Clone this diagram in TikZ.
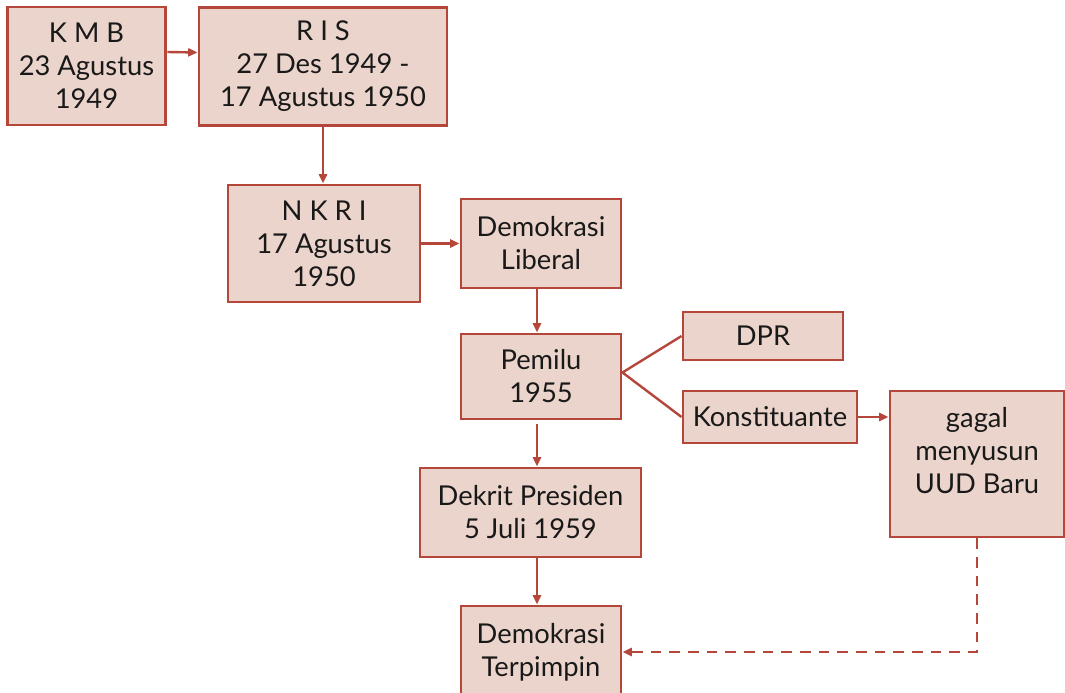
\documentclass[tikz,border=0pt]{standalone}
\usepackage{fontspec}
\setmainfont{Lato}
\usetikzlibrary{positioning,arrows.meta}
\definecolor{boxfill}{HTML}{EBD4CB}
\definecolor{boxline}{HTML}{B5473A}
\begin{document}
\begin{tikzpicture}[x=0.75pt,y=-0.75pt,
box/.style={rectangle, draw=boxline, fill=boxfill, line width=2.2pt, align=center, inner sep=2pt, font=\fontsize{20.5}{24.75}\selectfont, text=black!90},
link/.style={draw=boxline, line width=1.8pt},
arr/.style={link, -{Triangle[length=7pt,width=6pt]}}
]
\useasboundingbox (0,0) rectangle (1065,693);

\node[box, minimum width=119pt, minimum height=88.5pt](kmb) at (86.5,66) {K M B\\23 Agustus\\1949};
\node[box, minimum width=186pt, minimum height=89pt](ris) at (323,66.5) {R I S\\27 Des 1949 -\\17 Agustus 1950};
\node[box, minimum width=144pt, minimum height=87.75pt](nkri) at (324,243.5) {N K R I\\17 Agustus\\1950};
\node[box, minimum width=120pt, minimum height=66.75pt](demo_lib) at (541,243.5) {Demokrasi\\Liberal};
\node[box, minimum width=120pt, minimum height=63.75pt](pemilu) at (541,376.5) {Pemilu\\1955};
\node[box, minimum width=120pt, minimum height=36pt](dpr) at (763,336) {DPR};
\node[box, minimum width=130.5pt, minimum height=39pt](konst) at (770,417) {Konstituante};
\node[box, minimum width=130.5pt, minimum height=109.5pt](gagal) at (977,464) {gagal\\menyusun\\UUD Baru\\[-3.75pt]};
\node[box, minimum width=165.75pt, minimum height=66.75pt](dekrit) at (530.5,512.5) {Dekrit Presiden\\5 Juli 1959};
\node[box, minimum width=120pt, minimum height=69pt](demo_terp) at (541,652) {Demokrasi\\Terpimpin};

\draw[arr] ([yshift=10.5pt]kmb.east) -- ([yshift=10.5pt]ris.west);
\draw[arr] (ris.south) -- (nkri.north -| ris.south);
\draw[arr] (nkri.east) -- (demo_lib.west);
\draw[arr] ([xshift=-3pt]demo_lib.south) -- ([xshift=-3pt]pemilu.north);
\draw[arr] ([xshift=-3pt,yshift=-3pt]pemilu.south) -- ([xshift=-3pt]pemilu.south |- dekrit.north);
\draw[arr] ([xshift=-3pt]demo_terp.north |- dekrit.south) -- ([xshift=-3pt]demo_terp.north);
\draw[link] (dpr.west) -- ([yshift=3pt]pemilu.east) -- (konst.west);
\draw[arr] (konst.east) -- (konst.east -| gagal.west);
\draw[arr, dash pattern=on 8pt off 6pt] (gagal.south) |- (demo_terp.east);
\end{tikzpicture}
\end{document}
